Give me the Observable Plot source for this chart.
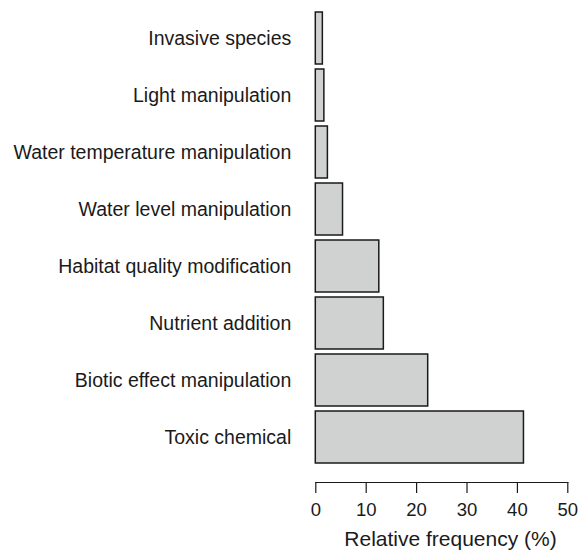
<!DOCTYPE html>
<html>
<head>
<meta charset="utf-8">
<script src="https://cdn.jsdelivr.net/npm/d3@7"></script>
<script src="https://cdn.jsdelivr.net/npm/@observablehq/plot@0.6"></script>
<style>
  html, body { margin: 0; padding: 0; background: #fff; }
  svg, svg text { font-family: "Liberation Sans", Arial, Helvetica, sans-serif !important; }
</style>
</head>
<body>
<div id="chart"></div>
<script>
const categories = [
  "Invasive species",
  "Light manipulation",
  "Water temperature manipulation",
  "Water level manipulation",
  "Habitat quality modification",
  "Nutrient addition",
  "Biotic effect manipulation",
  "Toxic chemical"
];
const values = [1.4, 1.7, 2.4, 5.4, 12.6, 13.5, 22.3, 41.3];
const xTicks = [0, 10, 20, 30, 40, 50];
const xLabel = "Relative frequency (%)";

const data = categories.map((c, i) => ({category: c, value: values[i]}));

const chart = Plot.plot({
  width: 579,
  height: 554,
  marginLeft: 315.3,
  marginRight: 11.7,
  marginTop: 12.3,
  marginBottom: 72,
  insetBottom: 18.7,
  style: {fontFamily: "'Liberation Sans', Arial, sans-serif", color: "#1a1a1a", background: "#fff"},
  x: {domain: [0, 50]},
  y: {domain: categories, paddingInner: 0.088, paddingOuter: 0},
  marks: [
    Plot.barX(data, {x: "value", y: "category", fill: "#d0d2d2", stroke: "#1a1a1a", strokeWidth: 1.5}),
    Plot.frame({anchor: "bottom", stroke: "#1a1a1a", strokeWidth: 1.2}),
    Plot.axisX({ticks: xTicks, tickSize: 11, tickPadding: 9, fontSize: 18.5, label: null, stroke: "#1a1a1a", strokeWidth: 1.2}),
    Plot.axisY({tickSize: 0, tickPadding: 24.5, fontSize: 19.5, label: null}),
    Plot.text([xLabel], {text: d => d, frameAnchor: "bottom", dx: 8.7, dy: 63, fontSize: 21, fill: "#1a1a1a"})
  ]
});
document.getElementById("chart").appendChild(chart);
</script>
</body>
</html>
